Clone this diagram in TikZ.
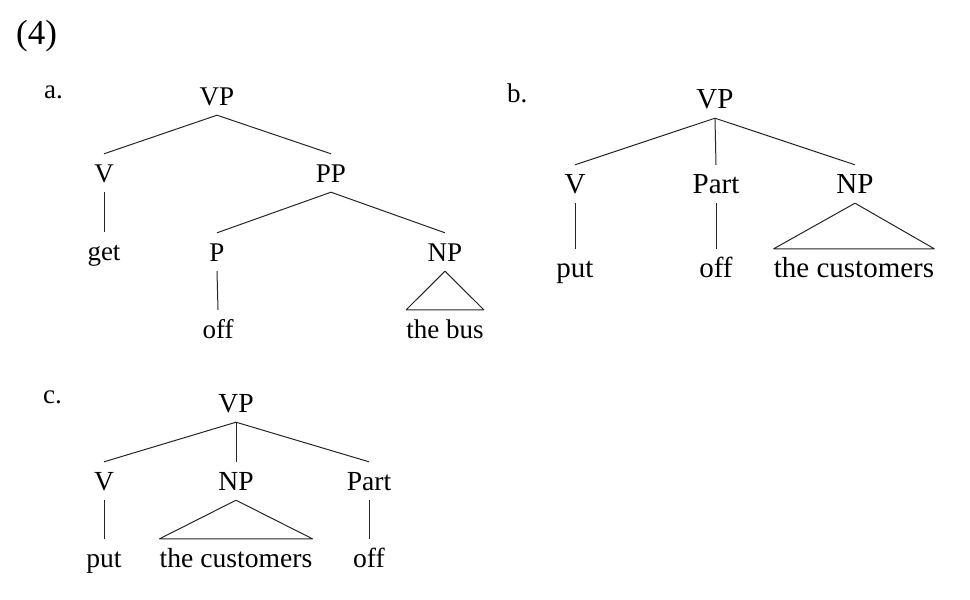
\documentclass[tikz,border=0pt]{standalone}
\usepackage{fontspec}
\setmainfont{Liberation Serif}
\begin{document}
\begin{tikzpicture}[x=1pt,y=-1pt,
  lab/.style={anchor=base, inner xsep=0pt, inner ysep=10pt, text height=18pt, text depth=0pt, font=\fontsize{27}{30}\selectfont},
  labb/.style={lab, font=\fontsize{29}{32}\selectfont},
  labc/.style={lab, font=\fontsize{27.6}{31}\selectfont},
  tag/.style={anchor=base west, inner sep=0pt, font=\fontsize{27}{30}\selectfont},
  edge/.style={line width=1pt, draw=black!85, line join=round}]
\useasboundingbox (0,0) rectangle (970,600);
\fill[white] (0,0) rectangle (970,600);
\node[anchor=base west, inner sep=0pt, font=\fontsize{35}{40}\selectfont] (num) at (16,44) {(4)};
% tree a
\node[tag] (ta) at (44,98) {a.};
\node[lab] (aVP) at (217,105) {VP};
\node[lab] (aV) at (104,182) {V};
\node[lab] (aPP) at (331,182) {PP};
\node[lab] (aget) at (104,260) {get};
\node[lab] (aP) at (217,261) {P};
\node[lab] (aNP) at (445,261) {NP};
\node[lab] (aoff) at (218,338) {off};
\node[lab] (abus) at (445,338) {the bus};
\draw[edge] (aV.north) -- (aVP.south) -- (aPP.north);
\draw[edge] (aV.south) -- (aget.north);
\draw[edge] (aP.north) -- (aPP.south) -- (aNP.north);
\draw[edge] (aP.south) -- (aoff.north);
\draw[edge] (abus.north west) -- (aNP.south) -- (abus.north east) -- cycle;
% tree b
\node[tag] (tb) at (507,102) {b.};
\node[labb] (bVP) at (715,108) {VP};
\node[labb] (bV) at (575,193) {V};
\node[labb] (bPart) at (716,193) {Part};
\node[labb] (bNP) at (855,193) {NP};
\node[labb] (bput) at (575,277) {put};
\node[labb] (boff) at (716,277) {off};
\node[labb] (bcust) at (854,277) {the customers};
\draw[edge] (bV.north) -- (bVP.south) -- (bNP.north);
\draw[edge] (bVP.south) -- (bPart.north);
\draw[edge] (bV.south) -- (bput.north);
\draw[edge] (bPart.south) -- (boff.north);
\draw[edge] (bcust.north west) -- (bNP.south) -- (bcust.north east) -- cycle;
% tree c
\node[tag] (tc) at (43,403) {c.};
\node[labc] (cVP) at (236,412) {VP};
\node[labc] (cV) at (104,490) {V};
\node[labc] (cNP) at (236,490) {NP};
\node[labc] (cPart) at (369,490) {Part};
\node[labc] (cput) at (104,567) {put};
\node[labc] (ccust) at (236,567) {the customers};
\node[labc] (coff) at (369,567) {off};
\draw[edge] (cV.north) -- (cVP.south) -- (cPart.north);
\draw[edge] (cVP.south) -- (cNP.north);
\draw[edge] (cV.south) -- (cput.north);
\draw[edge] (cPart.south) -- (coff.north);
\draw[edge] (ccust.north west) -- (cNP.south) -- (ccust.north east) -- cycle;
\end{tikzpicture}
\end{document}
